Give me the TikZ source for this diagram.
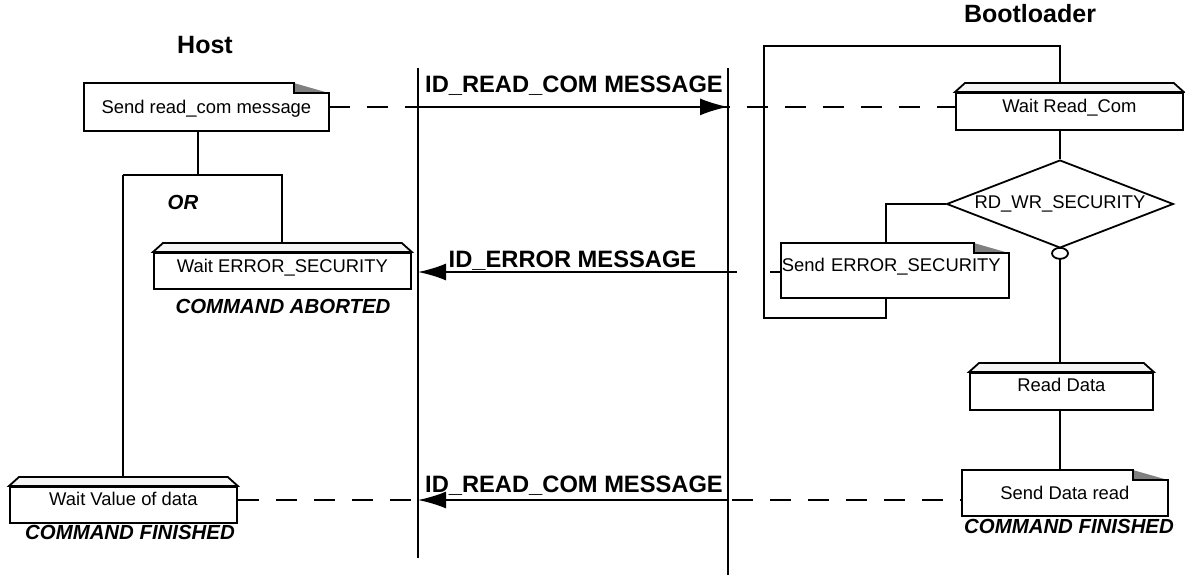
\documentclass[tikz,border=0pt]{standalone}
\usepackage{fontspec}
\setmainfont{Liberation Sans}
\usetikzlibrary{calc,positioning,shapes.geometric,arrows.meta}

\newcommand\boxfont{\fontsize{18.4}{22}\selectfont}
\newcommand\msgfont{\fontsize{23.7}{28}\selectfont\bfseries}
\newcommand\cmdfont{\fontsize{20.4}{24}\selectfont\bfseries\itshape}
\newcommand\ttlfont{\fontsize{25}{30}\selectfont\bfseries}
% lid on top of a wait box
\newcommand\statetop[1]{%
  \filldraw[fill=black!4]($(#1.north west)$)--($(#1.north west)+(10,-9)$)
    --($(#1.north east)+(-10,-9)$)--(#1.north east)--cycle;}
% outline of a send box with its folded corner
\newcommand\sendfold[1]{%
  \fill[black!50]($(#1.north east)+(-35,0)$)--($(#1.north east)+(0,10)$)
    --($(#1.north east)+(-35,10)$)--cycle;
  \draw($(#1.north west)$)--($(#1.north east)+(-35,0)$)--($(#1.north east)+(-35,10)$)
    --($(#1.north east)+(0,10)$)--(#1.south east)--(#1.south west)--cycle;}

\tikzset{
  waitbox/.style={draw,fill=white,font=\boxfont,anchor=north west,inner sep=0pt,
    text height=19pt,text depth=17pt},
  sendbox/.style={font=\boxfont,anchor=north west,inner sep=0pt,
    text height=29pt,text depth=16pt},
  decision/.style={diamond,draw,font=\boxfont,aspect=2.58,inner sep=1.7pt,
    text height=13pt,text depth=4pt},
  msg/.style={-{Latex[length=28pt,width=17pt]}},
  msglabel/.style={font=\msgfont,anchor=base,inner sep=0pt},
  dashline/.style={dash pattern=on 21pt off 17pt},
  cmd/.style={font=\cmdfont,inner sep=0pt},
  ttl/.style={font=\ttlfont,inner sep=0pt}
}

\begin{document}
\begin{tikzpicture}[x=1pt,y=-1pt,line width=1.8pt]
  \useasboundingbox (0,0) rectangle (1185,575);
  % titles
  \node[ttl](host)at(205,45){Host};
  \node[ttl](boot)at(1030,14){Bootloader};
  % life lines
  \coordinate(hostTop)at(418,68);
  \coordinate(hostBot)at(418,558);
  \coordinate(bootTop)at(728,68);
  \coordinate(bootBot)at(728,575);
  \draw(hostTop)--(hostBot) (bootTop)--(bootBot);
  % host side
  \node[sendbox,minimum width=243pt,text height=30pt](sendrd)at(84,83){Send read\_com message};
  \node[waitbox,minimum width=257pt,text height=19.5pt,text depth=16.5pt](werr)at(153,252){Wait ERROR\_SECURITY};
  \node[waitbox,minimum width=227pt,text height=18.5pt,text depth=17.5pt](wval)at(9,486){Wait Value of data};
  \coordinate(orL)at(123,175);
  \coordinate(orM)at(198,175);
  \coordinate(orR)at(282,175);
  \draw(orM |- sendrd.south)--(orM) (orL)--(orR)--(orR |- werr.north)
    (orL)--(orL |- wval.north);
  \node[cmd](or)at(183,202){OR};
  \node[cmd](abort)at(283,306.5){COMMAND ABORTED};
  \node[cmd](fin1)at(130,532.5){COMMAND FINISHED};
  % bootloader side
  \node[waitbox,minimum width=227pt,text height=19.5pt,text depth=17.5pt](wrc)at(955,92){Wait Read\_Com};
  \node[decision](dia)at(1060,204){RD\_WR\_SECURITY};
  \node[sendbox,text width=226pt,align=left,text height=28pt,text depth=25pt](serr)at(781,243){Send ERROR\_SECURITY};
  \node[waitbox,minimum width=183pt,text height=18.5pt,text depth=18.5pt](rd)at(969,372){Read Data};
  \node[sendbox,minimum width=204pt,text height=28.5pt,text depth=15.5pt](sdr)at(962,470){Send Data read};
  \coordinate(loopTL)at(764,46);
  \coordinate(loopBL)at(764,318);
  \coordinate(loopBR)at(886,318);
  \draw(dia.north |- wrc.south)--(dia.north)
    (dia.north |- wrc.north)--(dia.north |- loopTL)--(loopTL)--(loopBL)--(loopBR)--(loopBR |- serr.south)
    (dia.west)--(dia.west -| loopBR)--(loopBR |- serr.north)
    (dia.south)--(dia.south |- rd.north)
    (rd.south -| dia.south)--(dia.south |- sdr.north);
  \draw[fill=white]($(dia.south)+(0,4.5)$)ellipse[x radius=8pt,y radius=5.5pt];
  \node[cmd](fin2)at(1069,526){COMMAND FINISHED};
  % messages
  \draw[dashline](sendrd.east)--(sendrd.east -| wrc.west);
  \draw[msg](sendrd.east -| hostTop)--(sendrd.east -| bootTop);
  \node[msglabel](lab1)at(574,93){ID\_READ\_COM MESSAGE};
  \coordinate(errEnd)at(737,272);
  \coordinate(errStub)at(770,272);
  \draw[msg](errEnd)--(errEnd -| hostTop);
  \draw(errStub)--(errStub -| serr.west);
  \node[msglabel](lab2)at(572.5,267){ID\_ERROR MESSAGE};
  \coordinate(readEnd)at(728,500);
  \draw[dashline](wval.east |- readEnd)--(sdr.west |- readEnd);
  \draw[msg](readEnd)--(readEnd -| hostTop);
  \node[msglabel](lab3)at(574,492){ID\_READ\_COM MESSAGE};
  % lids and folds
  \statetop{werr}\statetop{wval}\statetop{wrc}\statetop{rd}
  \sendfold{sendrd}\sendfold{serr}\sendfold{sdr}
\end{tikzpicture}
\end{document}
